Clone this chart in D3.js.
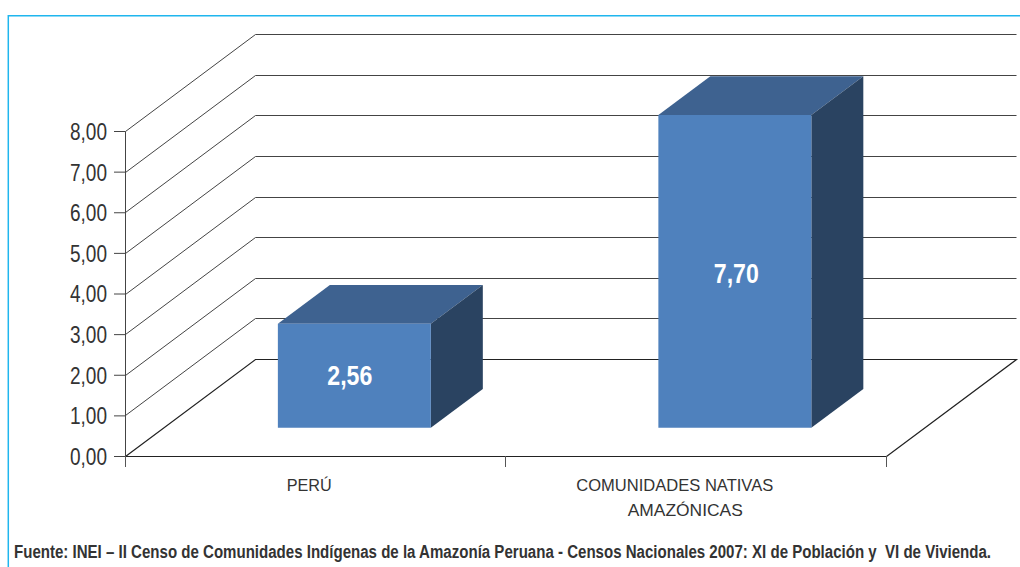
<!DOCTYPE html>
<html>
<head>
<meta charset="utf-8">
<script src="https://cdn.jsdelivr.net/npm/d3@7"></script>
<style>
  html, body { margin: 0; padding: 0; background: #fff; }
  svg { display: block; }
  text { font-family: "Liberation Sans", Arial, sans-serif; }
</style>
</head>
<body>
<div class="canvas"></div>
<script>
const categories = ['PERÚ', 'COMUNIDADES NATIVAS AMAZÓNICAS']
const categoryLines = [['PERÚ'], ['COMUNIDADES NATIVAS', 'AMAZÓNICAS']]
const values = [2.56, 7.70]
const valueLabels = ['2,56', '7,70']
const yTicks = [0, 1, 2, 3, 4, 5, 6, 7, 8]
const source = 'Fuente: INEI – II Censo de Comunidades Indígenas de la Amazonía Peruana - Censos Nacionales 2007: XI de Población y  VI de Vivienda.'

const width = 1020
const height = 567

// Oblique offset of the back wall
const depth = { x: 130, y: -97 }
const barDepth = { front: 0.29, back: 0.69, nudge: 1.4 }

// No narrow font installed, so squeeze text to the measured widths
const narrow = (selection, length) => selection
  .attr('textLength', length)
  .attr('lengthAdjust', 'spacingAndGlyphs')

const svg = d3.select('.canvas')
  .append('svg')
    .attr('width', width)
    .attr('height', height)

const x = d3.scaleBand()
  .domain(categories)
  .range([125, 886])
  .paddingInner(0.598)
  .paddingOuter(0.299)

const y = d3.scaleLinear()
  .domain([0, 8])
  .range([456, 131])

const comma = d3.formatLocale({ decimal: ',', thousands: '.', grouping: [3], currency: ['', ''] }).format('.2f')

// Frame
svg.append('path')
  .attr('d', `M8.3 567V15.8H${width}`)
  .attr('fill', 'none')
  .attr('stroke', '#1fb6ee')
  .attr('stroke-width', 1.5)

// Walls: one side line and one back line per tick
const x0 = x.range()[0] + 0.5
const x1 = x.range()[1] + 0.5

svg.append('g')
  .attr('fill', 'none')
  .selectAll('path')
  .data(yTicks)
  .enter()
  .append('path')
    .attr('stroke', t => t === 0 ? '#222' : '#444')
    .attr('stroke-width', t => t === 0 ? 1.2 : 1)
    .attr('d', t => {
      const yy = Math.round(y(t)) + 0.5
      const back = `M${x0} ${yy}L${x0 + depth.x} ${yy + depth.y}L${x1 + depth.x} ${yy + depth.y}`
      return t === 0 ? back + `L${x1} ${yy}` : back
    })

// Y axis with comma decimals
const yAxis = d3.axisLeft(y)
  .tickValues(yTicks)
  .tickFormat(comma)
  .tickSize(11)
  .tickPadding(7)

const yAxisGroup = svg.append('g')
  .attr('transform', `translate(${x.range()[0]} 0)`)
  .call(yAxis)

yAxisGroup.selectAll('path, line').attr('stroke', '#444')
yAxisGroup.selectAll('text')
  .attr('fill', '#333')
  .attr('font-size', 23.5)
  .attr('dy', '0.36em')
  .style('font-family', '"Liberation Sans", Arial, sans-serif')
  .call(narrow, 37)

// X axis: ticks sit on category boundaries
const boundaries = [0, 1, 2].map(i => x.range()[0] + i * x.step())

svg.append('path')
  .attr('d', `M${x0} 456.5H${x1}`)
  .attr('stroke', '#222')

svg.selectAll('.x-tick')
  .data(boundaries)
  .enter()
  .append('line')
    .attr('class', 'x-tick')
    .attr('x1', d => Math.floor(d) + 0.5)
    .attr('x2', d => Math.floor(d) + 0.5)
    .attr('y1', 456)
    .attr('y2', 467)
    .attr('stroke', '#555')

// Bars as three faces
const shift = d => [d * depth.x + barDepth.nudge, d * depth.y]
const at = (px, py, d) => [px + shift(d)[0], py + shift(d)[1]]

const faces = [
  {
    fill: '#3e6290',
    points: (left, right, top) => [
      at(left, top, barDepth.front),
      at(right, top, barDepth.front),
      at(right, top, barDepth.back),
      at(left, top, barDepth.back)
    ]
  },
  {
    fill: '#2a4361',
    points: (left, right, top, base) => [
      at(right, top, barDepth.front),
      at(right, top, barDepth.back),
      at(right, base, barDepth.back),
      at(right, base, barDepth.front)
    ]
  },
  {
    fill: '#4f81bd',
    points: (left, right, top, base) => [
      at(left, top, barDepth.front),
      at(right, top, barDepth.front),
      at(right, base, barDepth.front),
      at(left, base, barDepth.front)
    ]
  }
]

const bars = svg.selectAll('.bar')
  .data(categories)
  .enter()
  .append('g')
    .attr('class', 'bar')

faces.forEach(face => {
  bars.append('polygon')
    .attr('fill', face.fill)
    .attr('points', (d, i) => face.points(x(d), x(d) + x.bandwidth(), y(values[i]), y(0)).join(' '))
})

// Value labels, with the small offsets the original has inside each face
const labelOffsets = [{ dx: -4.5, dy: 9.5 }, { dx: 1.5, dy: 11.5 }]

bars.append('text')
  .attr('x', (d, i) => x(d) + x.bandwidth() / 2 + shift(barDepth.front)[0] + labelOffsets[i].dx)
  .attr('y', (d, i) => (y(values[i]) + y(0)) / 2 + shift(barDepth.front)[1] + labelOffsets[i].dy)
  .attr('text-anchor', 'middle')
  .attr('font-size', 27)
  .attr('font-weight', 'bold')
  .attr('fill', '#fff')
  .text((d, i) => valueLabels[i])
  .call(narrow, 45)

// Category labels, one text per line, measured widths and offsets from band centre
const lineStyles = [
  [{ dx: -6, length: 45 }],
  [{ dx: -21, length: 197 }, { dx: -10.5, length: 115 }]
]

categories.forEach((category, i) => {
  categoryLines[i].forEach((line, j) => {
    svg.append('text')
      .attr('x', x(category) + x.bandwidth() / 2 + lineStyles[i][j].dx)
      .attr('y', 491 + j * 24.5)
      .attr('text-anchor', 'middle')
      .attr('font-size', 17)
      .attr('fill', '#333')
      .text(line)
      .call(narrow, lineStyles[i][j].length)
  })
})

// Source note: too long for the page at full width, so scale it horizontally
const sourceText = svg.append('text')
  .attr('font-size', 17.5)
  .attr('font-weight', 'bold')
  .attr('fill', '#333')
  .style('white-space', 'pre')
  .text(source)

sourceText.attr('transform', `translate(14 557.5) scale(${978 / sourceText.node().getComputedTextLength()} 1)`)
</script>
</body>
</html>
